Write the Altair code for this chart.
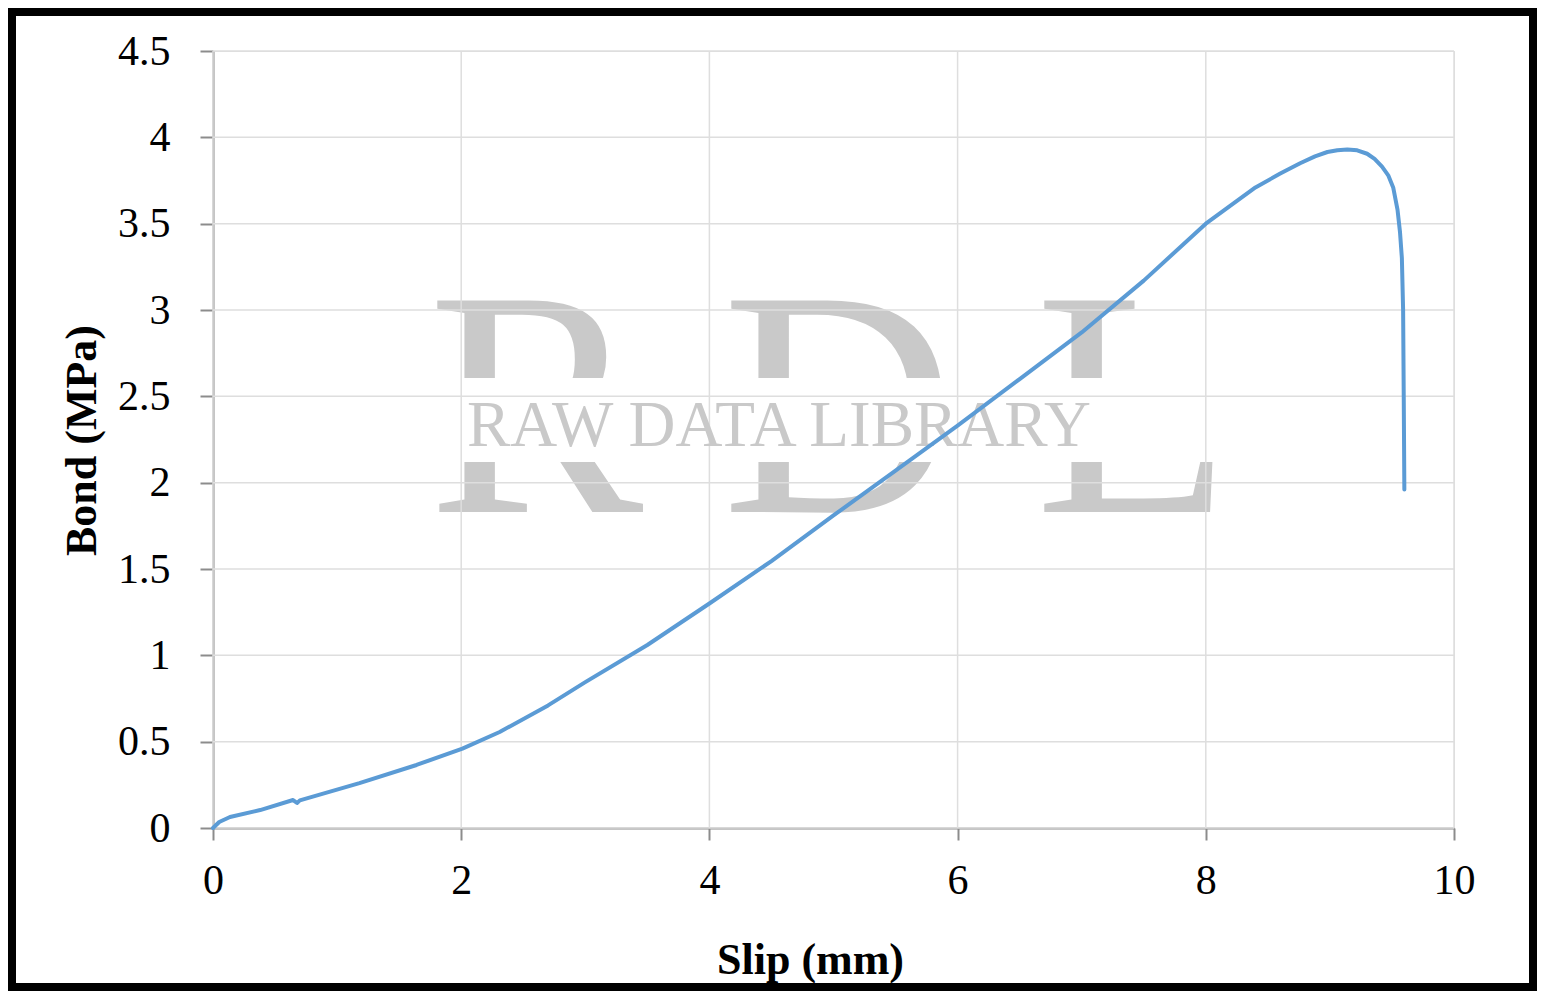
import altair as alt
import pandas as pd

# Data
slip_mm = [0, 0.05, 0.137, 0.38, 0.645, 0.677, 0.70, 1.18, 1.64, 2.01, 2.31, 2.7, 3.0,
           3.5, 4.0, 4.5, 5.0, 5.5, 6.0, 6.5, 7.0, 7.5, 8.0, 8.4, 8.6, 8.76, 8.88, 8.98, 9.06,
           9.14, 9.22, 9.30, 9.36, 9.42, 9.47, 9.51, 9.545, 9.565, 9.58, 9.59, 9.595, 9.60]
bond_mpa = [0, 0.035, 0.064, 0.104, 0.162, 0.145, 0.16, 0.26, 0.365, 0.46, 0.556, 0.71, 0.845,
            1.06, 1.30, 1.546, 1.81, 2.07, 2.33, 2.60, 2.87, 3.17, 3.50, 3.71, 3.79, 3.85, 3.89, 3.915, 3.925,
            3.93, 3.925, 3.905, 3.875, 3.83, 3.78, 3.71, 3.58, 3.45, 3.30, 3.0, 2.5, 1.96]
x_ticks = [0, 2, 4, 6, 8, 10]
y_ticks = [0, 0.5, 1, 1.5, 2, 2.5, 3, 3.5, 4, 4.5]
x_title = "Slip (mm)"
y_title = "Bond (MPa)"
wm_big = ["R", "D", "L"]
wm_small = "RAW DATA LIBRARY"

df = pd.DataFrame({"i": range(len(slip_mm)), "slip": slip_mm, "bond": bond_mpa})
gx = pd.DataFrame({"v": x_ticks})
gy = pd.DataFrame({"v": y_ticks})

W, H = 1241, 777
FONT = "Liberation Serif"
AXC = "#8c8c8c"
OX, OY = 213, 51  # page position of plot origin

xscale = alt.Scale(domain=[0, 10], nice=False)
yscale = alt.Scale(domain=[0, 4.5], nice=False)

x_axis = alt.Axis(values=x_ticks, title=x_title, grid=False, format=".1~f",
                  domainColor=AXC, domainWidth=2, tickColor=AXC, tickWidth=2,
                  tickSize=12, labelFont=FONT, labelFontSize=42, labelColor="black",
                  labelPadding=20, labelFlush=False,
                  titleFont=FONT, titleFontSize=44, titleFontWeight="bold",
                  titleColor="black", titleX=597, titleY=145,
                  titleAlign="center", titleBaseline="alphabetic")
y_axis = alt.Axis(values=y_ticks, title=y_title, grid=False, format=".1~f",
                  domainColor=AXC, domainWidth=2, tickColor=AXC, tickWidth=2,
                  tickSize=13, labelFont=FONT, labelFontSize=42, labelColor="black",
                  labelPadding=30, labelFlush=False,
                  titleFont=FONT, titleFontSize=44, titleFontWeight="bold",
                  titleColor="black", titleX=-118, titleY=389, titleAngle=270,
                  titleAlign="center", titleBaseline="alphabetic")

one = alt.Data(values=[{"a": 1}])
wm_color = "#c9c9c9"

# big watermark letters
big_pos = [(428 - OX, 512 - OY), (722 - OX, 512 - OY), (1035 - OX, 512 - OY)]
wm_layers = []
for letter, (px, py) in zip(wm_big, big_pos):
    wm_layers.append(
        alt.Chart(one).mark_text(font=FONT, fontSize=323, color=wm_color, align="left",
                                 baseline="alphabetic")
        .encode(x=alt.value(px), y=alt.value(py), text=alt.value(letter))
    )
# white band behind the small watermark text
wm_layers.append(
    alt.Chart(one).mark_rect(color="white").encode(
        x=alt.value(420 - OX), x2=alt.value(1228 - OX),
        y=alt.value(378 - OY), y2=alt.value(462 - OY))
)

grid_x = alt.Chart(gx).mark_rule(color="#dedede", strokeWidth=1.5).encode(
    x=alt.X("v:Q", scale=xscale, axis=x_axis))
grid_y = alt.Chart(gy).mark_rule(color="#dedede", strokeWidth=1.5).encode(
    y=alt.Y("v:Q", scale=yscale, axis=y_axis))

small_wm = alt.Chart(one).mark_text(font=FONT, fontSize=65, color=wm_color, align="center",
                                    baseline="alphabetic").encode(
    x=alt.value(779 - OX), y=alt.value(446 - OY), text=alt.value(wm_small))

line = alt.Chart(df).mark_line(color="#5b9bd5", strokeWidth=4, strokeCap="round",
                               strokeJoin="round").encode(
    x=alt.X("slip:Q", scale=xscale, axis=x_axis),
    y=alt.Y("bond:Q", scale=yscale, axis=y_axis),
    order="i:Q",
)

frame = alt.Chart(one).mark_rect(fillOpacity=0, stroke="black", strokeWidth=8).encode(
    x=alt.value(-201), x2=alt.value(1320), y=alt.value(-39), y2=alt.value(936))

chart = alt.layer(*wm_layers, grid_x, grid_y, small_wm, line, frame).properties(
    width=W, height=H,
    autosize=alt.AutoSizeParams(type="none"),
    padding={"left": 205, "top": 43, "right": 83, "bottom": 163},
).configure_view(stroke="#a6a6a6", strokeWidth=2).configure(background="white")

chart.save("out.html", embed_options={"renderer": "svg", "actions": False})
